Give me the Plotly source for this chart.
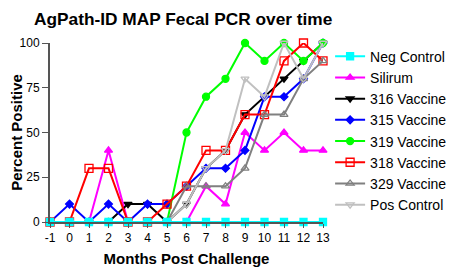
import plotly.graph_objects as go

months = [-1, 0, 1, 2, 3, 4, 5, 6, 7, 8, 9, 10, 11, 12, 13]
neg_control = [0, 0, 0, 0, 0, 0, 0, 0, 0, 0, 0, 0, 0, 0, 0]
silirum = [0, 0, 0, 40, 0, 0, 0, 0, 20, 10, 50, 40, 50, 40, 40]
v316 = [0, 0, 0, 0, 10, 10, 0, 10, 30, 40, 60, 70, 80, 90, 100]
v315 = [0, 10, 0, 10, 0, 10, 10, 20, 30, 30, 40, 70, 70, 80, 100]
v319 = [0, 0, 0, 0, 0, 0, 0, 50, 70, 80, 100, 90, 100, 90, 100]
v318 = [0, 0, 30, 30, 0, 0, 10, 20, 40, 40, 60, 60, 90, 100, 90]
v329 = [0, 0, 0, 0, 0, 0, 0, 20, 20, 20, 30, 60, 60, 80, 90]
pos_control = [0, 0, 0, 0, 0, 0, 0, 10, 30, 40, 80, 70, 100, 80, 100]

x_ticks = list(range(-1, 14))
y_ticks = [0, 25, 50, 75, 100]

series = [
    ("Neg Control", neg_control, "#00FFFF", "square", 7, 1),
    ("Silirum", silirum, "#FF00FF", "triangle-up", 7, 2),
    ("316 Vaccine", v316, "#000000", "triangle-down", 7, 3),
    ("315 Vaccine", v315, "#0000FF", "diamond", 6, 4),
    ("319 Vaccine", v319, "#00FF00", "circle", 7, 5),
    ("318 Vaccine", v318, "#FF0000", "square-open", 8, 6),
    ("329 Vaccine", v329, "#808080", "triangle-up-open", 7, 7),
    ("Pos Control", pos_control, "#C0C0C0", "triangle-down-open", 7, 8),
]

fig = go.Figure()
# draw Neg Control last so it sits on top at zero
draw_order = series[1:] + series[:1]
for name, vals, color, sym, size, rank in draw_order:
    fig.add_trace(go.Scatter(
        x=months, y=vals, name=name, mode="lines+markers",
        line=dict(color=color, width=2),
        marker=dict(symbol=sym, size=size, color=color,
                    line=dict(color=color, width=1.3)),
        legendrank=rank, cliponaxis=False,
    ))

# page body has an 8px margin, so the figure is 8px smaller and offsets shifted
fig.update_layout(
    width=446, height=260,
    margin=dict(l=42, r=131, t=35, b=46, autoexpand=False),
    paper_bgcolor="white", plot_bgcolor="white",
    font=dict(family="Liberation Sans, Arial, sans-serif", color="black"),
    title=dict(text="<b>AgPath-ID MAP Fecal PCR over time</b>",
               x=26 / 446, xanchor="left", y=1 - 5 / 260, yanchor="top",
               font=dict(size=17.3, color="black")),
    showlegend=True,
    legend=dict(x=1.026, xanchor="left", y=1.013, yanchor="top",
                font=dict(size=14), itemwidth=30, maxheight=240,
                tracegroupgap=0, bgcolor="rgba(0,0,0,0)"),
)

fig.update_xaxes(
    range=[-1, 13], tickvals=x_ticks, ticktext=[str(t) for t in x_ticks],
    showgrid=False, zeroline=False, showline=True, linecolor="#555555",
    linewidth=2, ticks="outside", ticklen=4, tickcolor="#555555",
    tickfont=dict(size=12),
    title=dict(text="<b>Months Post Challenge</b>", font=dict(size=15), standoff=9),
)
fig.update_yaxes(
    range=[0, 100], tickvals=y_ticks, ticktext=[str(t) for t in y_ticks],
    showgrid=False, zeroline=False, showline=True, linecolor="#555555",
    linewidth=2, ticks="outside", ticklen=6, tickcolor="#555555",
    tickfont=dict(size=12),
    title=dict(text="<b>Percent Positive</b>", font=dict(size=15), standoff=8),
)

fig.write_html("out.html")
